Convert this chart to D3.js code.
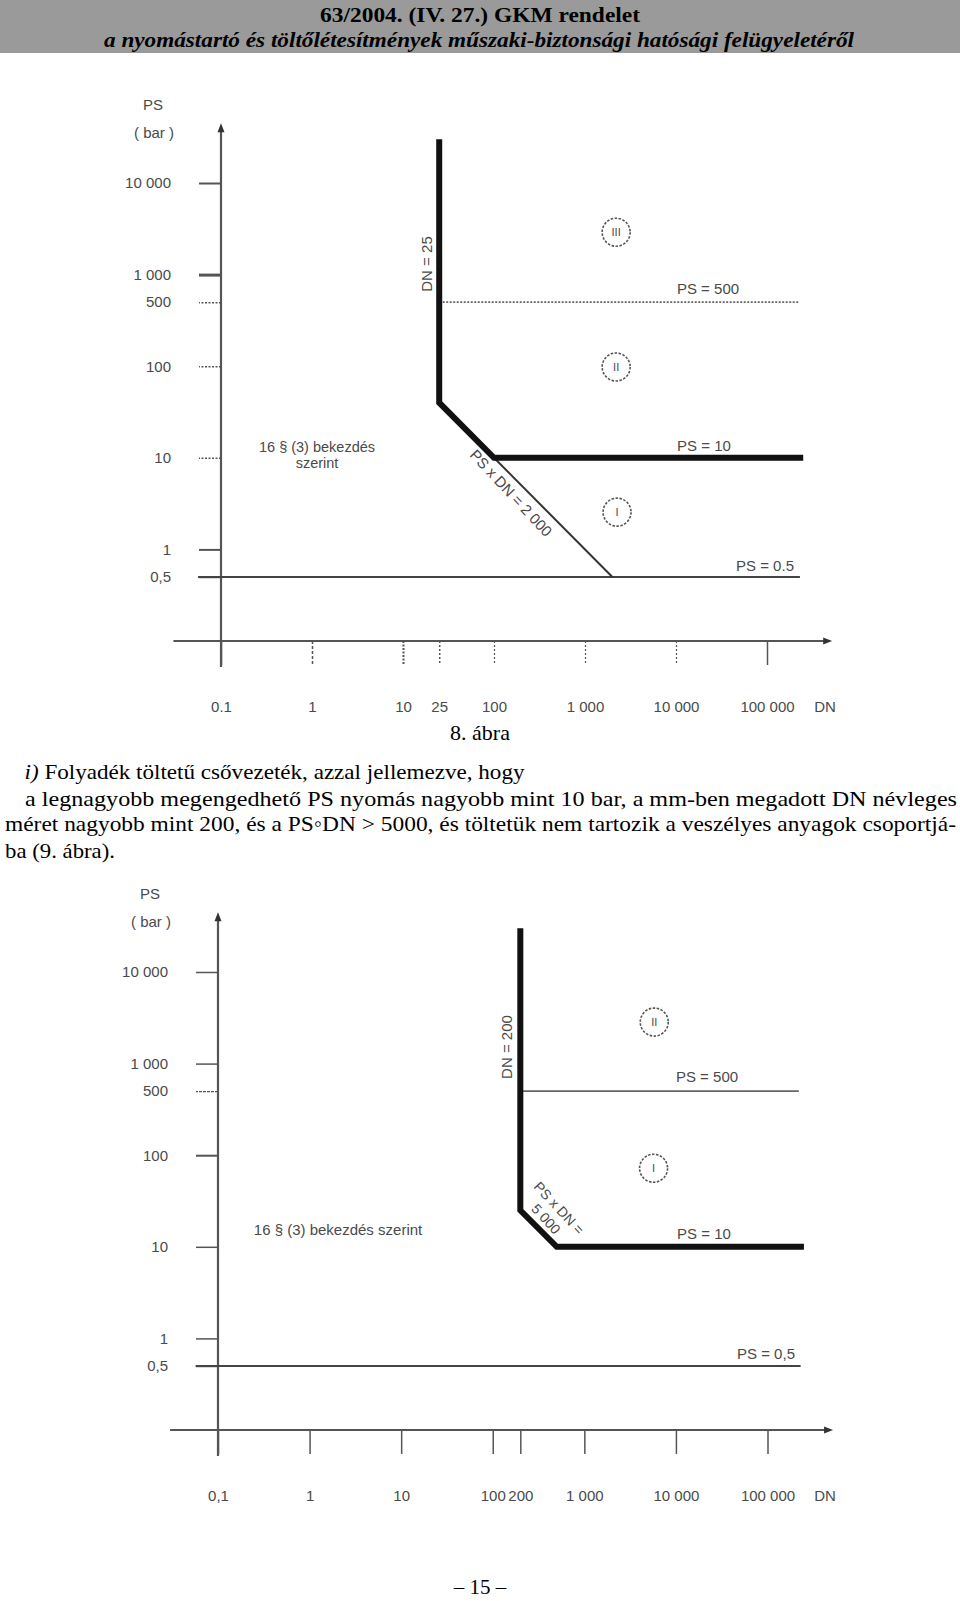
<!DOCTYPE html>
<html><head><meta charset="utf-8">
<script src="https://cdn.jsdelivr.net/npm/d3@7"></script>
<style>
body{margin:0;background:#fff;}
svg{display:block;}
</style></head><body>
<svg id="page" width="960" height="1601"></svg>
<script>
// ---------- data ----------
const headerTitle = "63/2004. (IV. 27.) GKM rendelet";
const headerSubtitle = "a nyomástartó és töltőlétesítmények műszaki-biztonsági hatósági felügyeletéről";
const caption8 = "8. ábra";
const paraLines = [
  "Folyadék töltetű csővezeték, azzal jellemezve, hogy",
  "a legnagyobb megengedhető PS nyomás nagyobb mint 10 bar, a mm-ben megadott DN névleges",
  "méret nagyobb mint 200, és a PS◦DN > 5000, és töltetük nem tartozik a veszélyes anyagok csoportjá-",
  "ba (9. ábra)."
];
const pageNumber = "– 15 –";

const yTicks = [0.5, 1, 10, 100, 500, 1000, 10000];
const yTickLabels = ["0,5", "1", "10", "100", "500", "1 000", "10 000"];

const xTicks1 = [0.1, 1, 10, 25, 100, 1000, 10000, 100000];
const xTickLabels1 = ["0.1", "1", "10", "25", "100", "1 000", "10 000", "100 000"];
const xTicks2 = [0.1, 1, 10, 100, 200, 1000, 10000, 100000];
const xTickLabels2 = ["0,1", "1", "10", "100", "200", "1 000", "10 000", "100 000"];

// chart 1 (8. ábra) lines, [DN, PS]
const boundary1 = [[25, 30000], [25, 40], [100, 10], [250000, 10]];
const diagonal1 = [[100, 10], [2000, 0.5]];
const ps500Line1 = [[25, 500], [220000, 500]];
const ps05Line1 = [[0.056, 0.5], [230000, 0.5]];
const regions1 = [{name: "III", dn: 2200, ps: 2900}, {name: "II", dn: 2200, ps: 98}, {name: "I", dn: 2250, ps: 2.55}];

// chart 2 (9. ábra) lines, [DN, PS]
const boundary2 = [[200, 30000], [200, 25], [500, 10], [250000, 10]];
const ps500Line2 = [[200, 500], [220000, 500]];
const ps05Line2 = [[0.057, 0.5], [230000, 0.5]];
const regions2 = [{name: "II", dn: 5800, ps: 2840}, {name: "I", dn: 5700, ps: 72}];

const xAxisExtent = [0.03, 520000];
const yAxisExtent = [0.052, 45000];

// ---------- drawing ----------
const svg = d3.select("#page");
const SERIF = "'Liberation Serif','Times New Roman',serif";
const SANS = "'Liberation Sans',Arial,sans-serif";
const INK = "#4a4a4a";

// header
svg.append("rect").attr("x", 0).attr("y", 0).attr("width", 960).attr("height", 53).attr("fill", "#9a9a9a");
svg.append("text").attr("x", 480).attr("y", 22).attr("text-anchor", "middle")
  .attr("font-family", SERIF).attr("font-weight", "bold").attr("font-size", 22)
  .attr("textLength", 320).attr("lengthAdjust", "spacingAndGlyphs").text(headerTitle);
svg.append("text").attr("x", 479).attr("y", 47).attr("text-anchor", "middle")
  .attr("font-family", SERIF).attr("font-weight", "bold").attr("font-style", "italic").attr("font-size", 20)
  .attr("textLength", 750).attr("lengthAdjust", "spacingAndGlyphs").text(headerSubtitle);

// caption + paragraph
svg.append("text").attr("x", 480).attr("y", 740).attr("text-anchor", "middle")
  .attr("font-family", SERIF).attr("font-size", 22).text(caption8);

const paraSpecs = [
  {x: 24.5, y: 779, w: 500},
  {x: 25, y: 806, w: 932},
  {x: 5, y: 831, w: 951},
  {x: 5, y: 858, w: 110}
];
paraSpecs.forEach((s, i) => {
  const t = svg.append("text").attr("x", s.x).attr("y", s.y)
    .attr("font-family", SERIF).attr("font-size", 22)
    .attr("textLength", s.w).attr("lengthAdjust", "spacingAndGlyphs");
  if (i === 0) {
    t.append("tspan").attr("font-style", "italic").text("i)");
    t.append("tspan").text(" " + paraLines[0]);
  } else {
    t.text(paraLines[i]);
  }
});

svg.append("text").attr("x", 480).attr("y", 1594).attr("text-anchor", "middle")
  .attr("font-family", SERIF).attr("font-size", 21).text(pageNumber);

function drawChart(cfg) {
  const g = svg.append("g");
  const x = d3.scaleLog().domain([0.1, 100000]).range(cfg.xRange);
  const y = d3.scaleLog().domain([0.1, 10000]).range(cfg.yRange);
  const line = d3.line().x(d => x(d[0])).y(d => y(d[1]));

  // axis lines with arrows
  const x0 = x(0.1), y0 = y(0.1);
  const xEnd = x(xAxisExtent[1]), yTop = y(yAxisExtent[1]);
  g.append("line").attr("x1", x(xAxisExtent[0])).attr("x2", xEnd - 4).attr("y1", y0).attr("y2", y0)
    .attr("stroke", "#555").attr("stroke-width", 2.2);
  g.append("path").attr("d", `M${xEnd},${y0} L${xEnd - 9},${y0 - 3.5} L${xEnd - 9},${y0 + 3.5} Z`).attr("fill", "#333");
  g.append("line").attr("x1", x0).attr("x2", x0).attr("y1", y(yAxisExtent[0])).attr("y2", yTop + 4)
    .attr("stroke", "#555").attr("stroke-width", 2.2);
  g.append("path").attr("d", `M${x0},${yTop} L${x0 - 3.5},${yTop + 9} L${x0 + 3.5},${yTop + 9} Z`).attr("fill", "#333");

  // y axis ticks
  const ay = d3.axisLeft(y).tickValues(yTicks).tickFormat((d, i) => yTickLabels[i])
    .tickSize(22).tickPadding(28).tickSizeOuter(0);
  const gy = g.append("g").attr("transform", `translate(${x0},0)`).call(ay);
  gy.select(".domain").remove();
  gy.selectAll(".tick line").attr("stroke", "#555")
    .attr("stroke-width", (d, i) => cfg.yTickWidth[i])
    .attr("stroke-dasharray", (d, i) => cfg.yTickDash[i]);
  gy.selectAll(".tick text").attr("font-family", SANS).attr("font-size", 15).attr("fill", INK);

  // x axis ticks
  const ax = d3.axisBottom(x).tickValues(cfg.xTicks).tickFormat((d, i) => cfg.xLabels[i])
    .tickSize(24).tickPadding(36).tickSizeOuter(0);
  const gx = g.append("g").attr("transform", `translate(0,${y0})`).call(ax);
  gx.select(".domain").remove();
  gx.selectAll(".tick line").attr("stroke", "#555")
    .attr("stroke-width", (d, i) => cfg.xTickWidth[i])
    .attr("stroke-dasharray", (d, i) => cfg.xTickDash[i]);
  gx.selectAll(".tick text").attr("font-family", SANS).attr("font-size", 15).attr("fill", INK);
  gx.append("text").attr("x", 825).attr("y", 60).attr("dy", "0.71em").attr("text-anchor", "middle")
    .attr("font-family", SANS).attr("font-size", 15).attr("fill", INK).text("DN");

  // axis title
  g.append("text").attr("x", x0 - 68).attr("y", y(10000) - 73).attr("text-anchor", "middle")
    .attr("font-family", SANS).attr("font-size", 15).attr("fill", INK).text("PS");
  g.append("text").attr("x", x0 - 67).attr("y", y(10000) - 45).attr("text-anchor", "middle")
    .attr("font-family", SANS).attr("font-size", 15).attr("fill", INK).text("( bar )");

  // PS = 0.5 line
  g.append("path").attr("d", line(cfg.ps05)).attr("fill", "none").attr("stroke", "#444").attr("stroke-width", 2);
  // PS = 500 dotted line
  g.append("path").attr("d", line(cfg.ps500)).attr("fill", "none").attr("stroke", "#666")
    .attr("stroke-width", 1.8).attr("stroke-dasharray", cfg.ps500Dash);
  // thin diagonal
  if (cfg.diagonal) {
    g.append("path").attr("d", line(cfg.diagonal)).attr("fill", "none").attr("stroke", "#333").attr("stroke-width", 2);
  }
  // thick boundary
  g.append("path").attr("d", line(cfg.boundary)).attr("fill", "none").attr("stroke", "#111")
    .attr("stroke-width", 6).attr("stroke-linejoin", "miter");

  // region circles
  cfg.regions.forEach(r => {
    g.append("circle").attr("cx", x(r.dn)).attr("cy", y(r.ps)).attr("r", 14)
      .attr("fill", "none").attr("stroke", "#555").attr("stroke-width", 1.6).attr("stroke-dasharray", "2.5,1.5");
    g.append("text").attr("x", x(r.dn)).attr("y", y(r.ps)).attr("dy", "0.35em").attr("text-anchor", "middle")
      .attr("font-family", SANS).attr("font-size", 11).attr("fill", INK).text(r.name);
  });

  // text labels
  cfg.labels.forEach(l => {
    g.append("text").attr("text-anchor", "middle")
      .attr("font-family", SANS).attr("font-size", l.size || 15).attr("fill", INK)
      .attr("transform", `translate(${l.x},${l.y}) rotate(${l.rot || 0})`)
      .attr("dy", l.rot ? "0.35em" : 0).text(l.text);
  });
}

drawChart({
  xRange: [221, 767], yRange: [641, 183],
  xTicks: xTicks1, xLabels: xTickLabels1,
  yTickWidth: [1.5, 2, 1.5, 1.5, 1.5, 3, 2],
  yTickDash: ["none", "none", "2,1.5", "2,1.5", "2,1.5", "none", "none"],
  xTickWidth: [1.5, 1.5, 2, 1.5, 1.2, 1.2, 1.2, 1.5],
  xTickDash: ["none", "3,2", "2,1.5", "2,2", "2,2", "2,2", "2,2", "none"],
  boundary: boundary1, diagonal: diagonal1, ps500: ps500Line1, ps05: ps05Line1,
  ps500Dash: "2,1.5",
  regions: regions1,
  labels: [
    {text: "PS = 500", x: 708, y: 294},
    {text: "PS = 10", x: 704, y: 451},
    {text: "PS = 0.5", x: 765, y: 571},
    {text: "DN = 25", x: 427, y: 264, rot: -90},
    {text: "PS x DN = 2 000", x: 511, y: 493, rot: 47},
    {text: "16 § (3) bekezdés", x: 317, y: 452, size: 14.5},
    {text: "szerint", x: 317, y: 468, size: 14.5}
  ]
});

drawChart({
  xRange: [218, 767.5], yRange: [1430, 972],
  xTicks: xTicks2, xLabels: xTickLabels2,
  yTickWidth: [1.5, 1.5, 1.5, 2, 1.2, 1.5, 1.5],
  yTickDash: ["none", "none", "none", "none", "3,1", "none", "none"],
  xTickWidth: [1.5, 1.5, 1.5, 1.5, 1.5, 1.5, 1.5, 1.5],
  xTickDash: ["none", "none", "none", "none", "none", "none", "none", "none"],
  boundary: boundary2, diagonal: null, ps500: ps500Line2, ps05: ps05Line2,
  ps500Dash: "none",
  regions: regions2,
  labels: [
    {text: "PS = 500", x: 707, y: 1082},
    {text: "PS = 10", x: 704, y: 1239},
    {text: "PS = 0,5", x: 766, y: 1359},
    {text: "DN = 200", x: 507, y: 1047, rot: -90},
    {text: "PS x DN =", x: 559, y: 1208, rot: 47, size: 14},
    {text: "5 000", x: 546, y: 1219, rot: 47, size: 14},
    {text: "16 § (3) bekezdés szerint", x: 338, y: 1235}
  ]
});
</script></body></html>
